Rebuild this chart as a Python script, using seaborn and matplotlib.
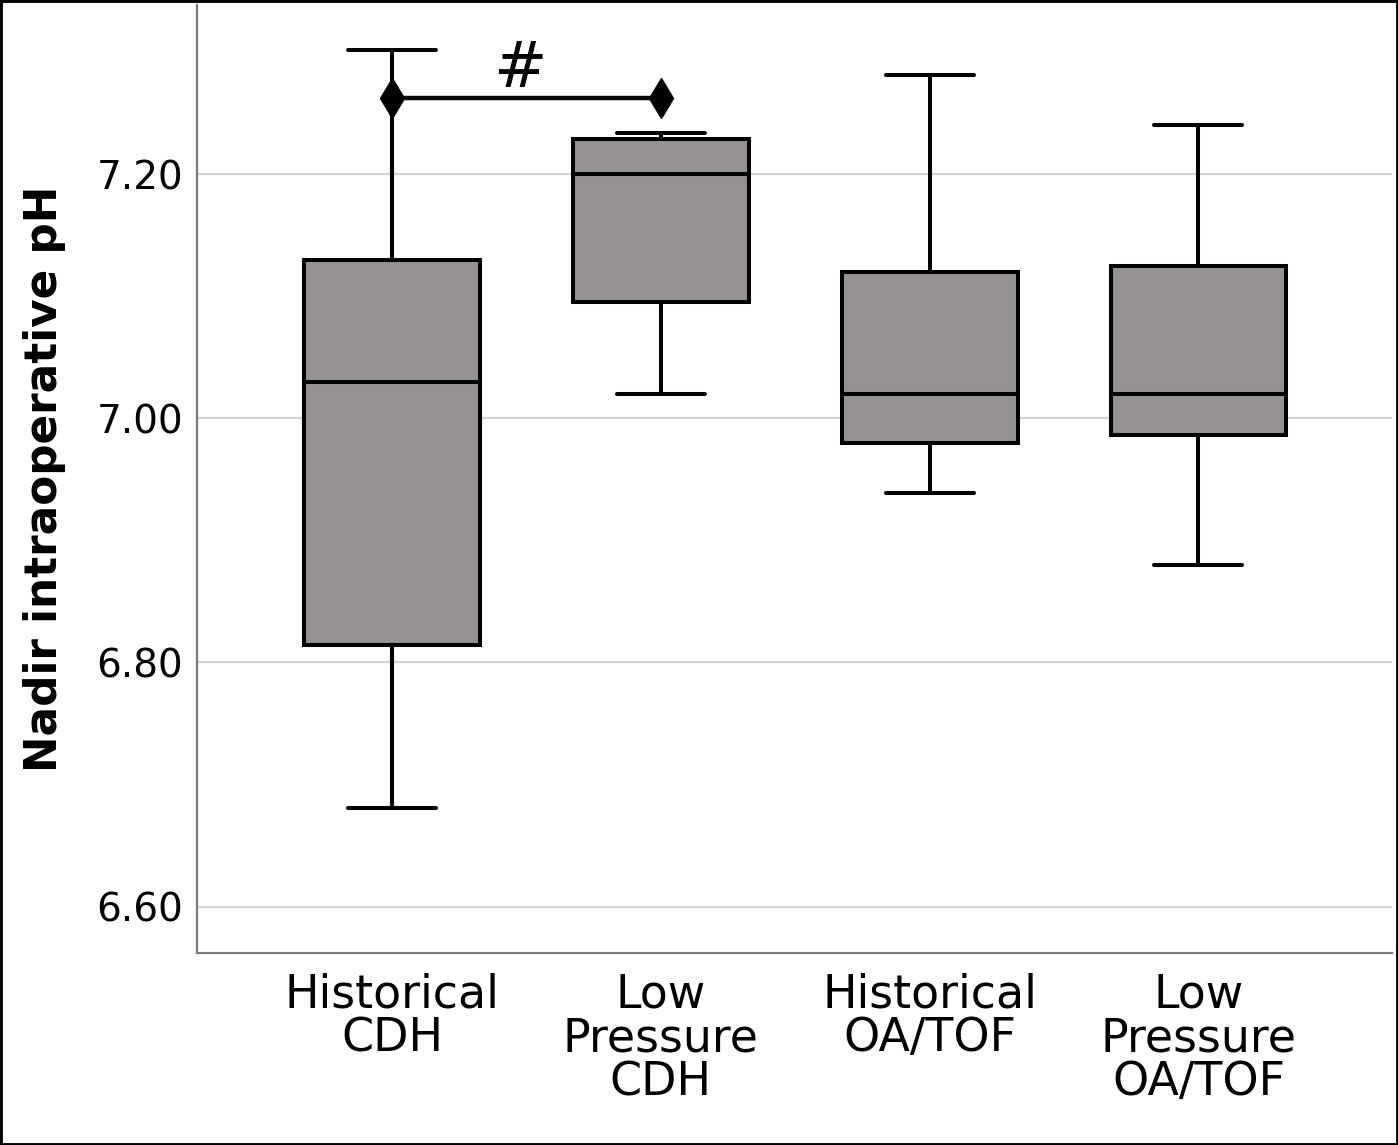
import matplotlib
matplotlib.use("Agg")
import matplotlib.pyplot as plt
from matplotlib import font_manager
from matplotlib.patches import Rectangle
import numpy as np
import pandas as pd
import seaborn as sns

# five-number summaries (min, Q1, median, Q3, max)
groups = ["Historical\nCDH", "Low\nPressure\nCDH", "Historical\nOA/TOF", "Low\nPressure\nOA/TOF"]
hist_cdh = [6.681, 6.814, 7.030, 7.130, 7.302]
low_cdh = [7.020, 7.095, 7.200, 7.229, 7.234]
hist_oa = [6.939, 6.980, 7.020, 7.120, 7.281]
low_oa = [6.880, 6.986, 7.020, 7.125, 7.240]
yticks = [6.60, 6.80, 7.00, 7.20]
sig_y = 7.262
sig_pair = [0, 1]

df = pd.DataFrame({
    "group": np.repeat(groups, 5),
    "ph": hist_cdh + low_cdh + hist_oa + low_oa,
})

sns.set_theme(style="white")

names = {f.name for f in font_manager.fontManager.ttflist}
reg_font = ["DejaVu Sans Condensed", "DejaVu Sans"] if "DejaVu Sans Condensed" in names else ["DejaVu Sans"]
plt.rcParams["font.family"] = reg_font
plt.rcParams["text.color"] = "black"
plt.rcParams["axes.labelcolor"] = "black"

fig = plt.figure(figsize=(13.98, 11.45), dpi=100)
ax = fig.add_axes([197 / 1398, 1 - 953 / 1145, (1392 - 197) / 1398, (953 - 5) / 1145])

sns.boxplot(data=df, x="group", y="ph", order=groups, whis=(0, 100), width=0.654,
            color="#959190", saturation=1, linecolor="black", linewidth=2.9, ax=ax)

# significance bar
ax.plot(sig_pair, [sig_y, sig_y], color="black", lw=3.2, marker="d", markersize=20, zorder=5)
ax.text(0.476, 7.271, "#", ha="center", va="baseline", fontsize=46, color="black")

ax.set_xlim(-0.725, 3.72)
ax.set_ylim(6.562, 7.3385)
ax.set_yticks(yticks)
ax.set_yticklabels([f"{v:.2f}" for v in yticks])
ax.yaxis.grid(True, color="#d2d2d2", lw=1.6)
ax.set_axisbelow(True)

ax.tick_params(axis="y", length=0, pad=10, labelsize=28, labelcolor="black")
ax.tick_params(axis="x", length=0, pad=14, labelsize=33, labelcolor="black")
for lab in ax.get_xticklabels():
    lab.set_linespacing(0.97)

ax.set_xlabel("")
ax.set_ylabel("Nadir intraoperative pH", fontsize=31.5, fontweight="bold")
ax.yaxis.set_label_coords(-0.11, 0.5)

sns.despine(ax=ax)
for s in ["left", "bottom"]:
    ax.spines[s].set_color("#7a7a7a")
    ax.spines[s].set_linewidth(1.6)

fig.patches.append(Rectangle((0, 0), 1, 1, transform=fig.transFigure, fill=False,
                             edgecolor="black", lw=3.5))

fig.savefig("out.png", dpi=100)
